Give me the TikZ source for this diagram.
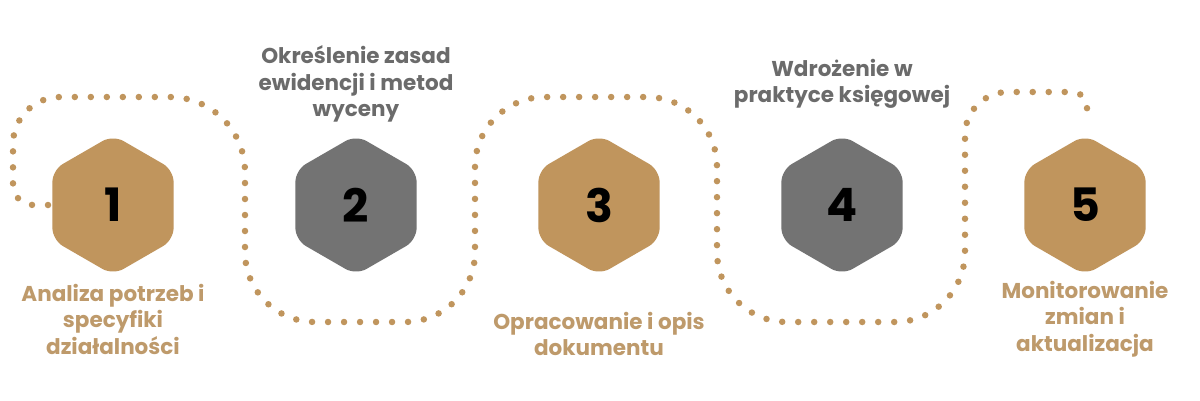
\documentclass[tikz,border=0pt]{standalone}
\usepackage{fontspec}
\setmainfont{Poppins}
\usetikzlibrary{shapes.geometric}
\definecolor{gold}{HTML}{C0955D}
\definecolor{hexgrey}{HTML}{737373}
\definecolor{labgold}{HTML}{BE9A6B}
\definecolor{labgrey}{HTML}{6B6B6B}
\begin{document}
\begin{tikzpicture}[x=1pt,y=1pt,
  hexnode/.style={regular polygon, regular polygon sides=6, shape border rotate=30,
    minimum size=140pt, inner sep=0pt, rounded corners=12pt, text=black,
    font=\fontsize{46}{46}\selectfont\bfseries},
  lab/.style={align=center, font=\fontsize{21.5}{26.5}\selectfont\bfseries},
  dotline/.style={draw=gold, line width=6.5pt, line cap=round, dash pattern=on 0pt off 16pt}]
\useasboundingbox (0,0) rectangle (1200,400);
\fill[white] (0,0) rectangle (1200,400);
\coordinate (s) at (48,195);
\coordinate (e) at (1087,277);
\draw[dotline] (s) -- (33,195) arc[start angle=270,end angle=180,radius=20]
  -- (13,256) arc[start angle=180,end angle=90,radius=47]
  -- (170,303) arc[start angle=90,end angle=0,radius=75]
  -- (245,148) arc[start angle=180,end angle=270,radius=70]
  -- (405,78) arc[start angle=270,end angle=360,radius=70]
  -- (475,233) arc[start angle=180,end angle=90,radius=70]
  -- (647,303) arc[start angle=90,end angle=0,radius=70]
  -- (717,148) arc[start angle=180,end angle=270,radius=70]
  -- (895,78) arc[start angle=270,end angle=360,radius=70]
  -- (965,265) arc[start angle=180,end angle=90,radius=43]
  -- (1072,308) arc[start angle=90,end angle=0,radius=15]
  -- (e);
\node[hexnode, fill=gold] (h1) at (113,195) {1};
\node[hexnode, fill=hexgrey] (h2) at (356,195) {2};
\node[hexnode, fill=gold] (h3) at (599,195) {3};
\node[hexnode, fill=hexgrey] (h4) at (842,195) {4};
\node[hexnode, fill=gold] (h5) at (1085,195) {5};
\node[lab, text=labgold] (l1) at (113,81) {Analiza potrzeb i\\specyfiki\\działalności};
\node[lab, text=labgrey] (l2) at (356,316) {Określenie zasad\\ewidencji i metod\\wyceny};
\node[lab, text=labgold] (l3) at (599,66) {Opracowanie i opis\\dokumentu};
\node[lab, text=labgrey] (l4) at (842,316) {Wdrożenie w\\praktyce księgowej};
\node[lab, text=labgold] (l5) at (1085,81) {Monitorowanie\\zmian i\\aktualizacja};
\end{tikzpicture}
\end{document}
